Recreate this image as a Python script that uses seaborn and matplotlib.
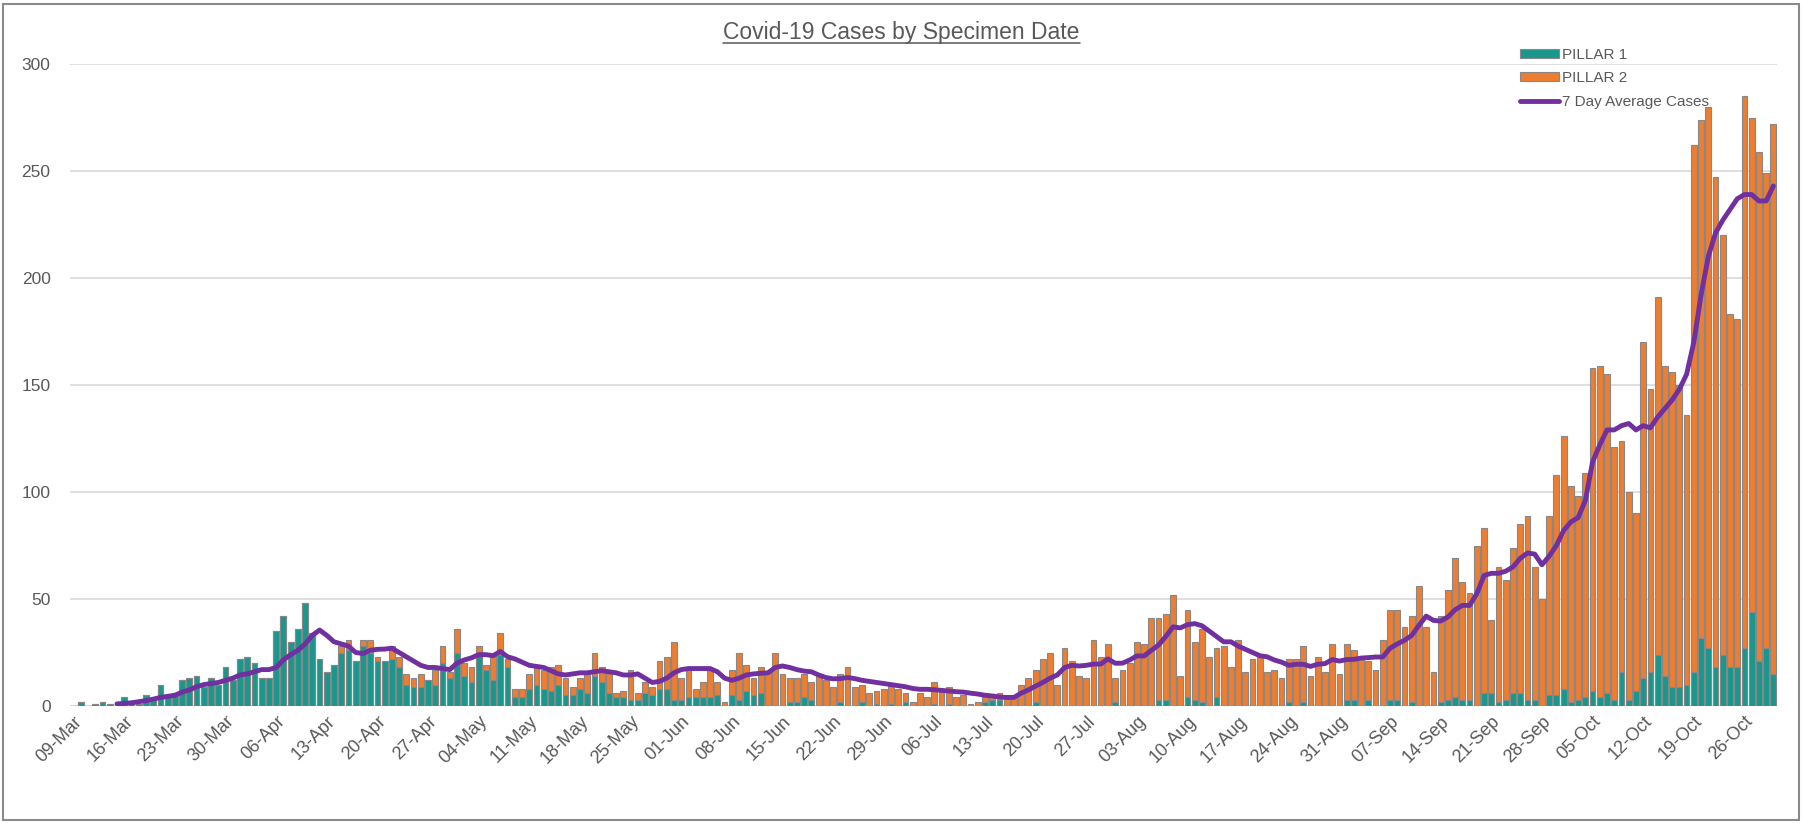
import numpy as np
import pandas as pd
import matplotlib
matplotlib.use("Agg")
import matplotlib.pyplot as plt
import seaborn as sns
from matplotlib.patches import Patch, Rectangle
from matplotlib.lines import Line2D

# ---------------- data (daily, starting 09-Mar) ----------------
start_date = "2020-03-09"

pillar1 = [
    0, 2, 0, 1, 2, 1, 0,
    4, 1, 1, 5, 3, 10, 4,
    6, 12, 13, 14, 9, 13, 10,
    18, 12, 22, 23, 20, 13, 13,
    35, 42, 30, 36, 48, 34, 22,
    16, 19, 25, 26, 21, 28, 25,
    21, 21, 22, 18, 10, 9, 9,
    12, 10, 20, 13, 25, 14, 11,
    24, 17, 12, 24, 18, 4, 4,
    8, 10, 8, 7, 10, 5, 5,
    8, 6, 14, 11, 6, 4, 4,
    3, 3, 6, 5, 8, 8, 3,
    3, 4, 4, 4, 4, 5, 0,
    5, 3, 7, 5, 6, 0, 0,
    0, 2, 2, 4, 3, 0, 0,
    0, 2, 0, 0, 2, 0, 1,
    0, 1, 0, 2, 0, 0, 0,
    1, 0, 1, 0, 0, 0, 0,
    2, 3, 3, 0, 0, 0, 0,
    2, 0, 0, 0, 0, 0, 0,
    0, 0, 0, 0, 2, 0, 0,
    0, 0, 0, 3, 3, 0, 0,
    4, 3, 2, 0, 4, 0, 0,
    0, 0, 0, 0, 0, 0, 0,
    2, 0, 2, 0, 0, 0, 0,
    0, 3, 3, 0, 3, 0, 0,
    3, 3, 0, 2, 0, 0, 0,
    2, 3, 4, 3, 3, 0, 6,
    6, 2, 3, 6, 6, 3, 3,
    0, 5, 5, 8, 2, 3, 4,
    7, 4, 6, 3, 16, 3, 7,
    13, 16, 24, 14, 9, 9, 10,
    16, 32, 27, 18, 24, 18, 18,
    27, 44, 21, 27, 15,
]

pillar2 = [
    0, 0, 0, 0, 0, 0, 0,
    0, 0, 0, 0, 0, 0, 0,
    0, 0, 0, 0, 0, 0, 0,
    0, 0, 0, 0, 0, 0, 0,
    0, 0, 0, 0, 0, 0, 0,
    0, 0, 3, 5, 0, 3, 6,
    2, 0, 6, 5, 5, 4, 6,
    0, 7, 8, 3, 11, 6, 7,
    4, 2, 12, 10, 4, 4, 4,
    7, 8, 9, 11, 9, 8, 4,
    5, 9, 11, 7, 11, 2, 3,
    14, 3, 5, 4, 13, 15, 27,
    10, 14, 4, 7, 13, 6, 2,
    12, 22, 12, 8, 12, 16, 25,
    15, 11, 11, 11, 8, 14, 12,
    9, 13, 18, 9, 8, 6, 6,
    8, 9, 8, 4, 2, 6, 4,
    10, 7, 8, 4, 5, 1, 2,
    4, 2, 3, 4, 4, 10, 13,
    15, 22, 25, 10, 27, 21, 14,
    13, 31, 23, 29, 11, 17, 20,
    30, 29, 41, 38, 40, 52, 14,
    41, 27, 34, 23, 23, 28, 18,
    31, 16, 22, 23, 16, 17, 13,
    20, 22, 26, 14, 23, 16, 29,
    15, 26, 23, 23, 18, 17, 31,
    42, 42, 37, 40, 56, 37, 16,
    40, 51, 65, 55, 50, 75, 77,
    34, 63, 56, 68, 79, 86, 62,
    50, 84, 103, 118, 101, 95, 105,
    151, 155, 149, 118, 108, 97, 83,
    157, 132, 167, 145, 147, 141, 126,
    246, 242, 253, 229, 196, 165, 163,
    258, 231, 238, 222, 257,
]

avg7 = [
    np.nan, np.nan, np.nan, np.nan, np.nan, np.nan, 1,
    1.2, 1.5, 2, 2.5, 3.2, 4, 4.5,
    5, 6.5, 7.5, 9, 10, 10.5, 11,
    12, 13, 14.5, 15, 16, 17, 17,
    18, 21.5, 24, 26, 29, 33, 35.5,
    33, 30, 29, 28, 25, 24.5, 26,
    26.5, 26.6, 27, 25, 23, 21, 19,
    18, 18, 17.5, 17, 20, 21.5, 22.5,
    24, 24, 23.5, 25.5, 23, 22, 20.5,
    19, 18.5, 18, 16.5, 15, 14.5, 15,
    15.5, 15.5, 16, 16.5, 16, 15.5, 14.5,
    14.5, 15, 13, 11, 11.5, 13, 15.5,
    17, 17.5, 17.5, 17.5, 17.5, 16, 13,
    12, 13, 14.5, 15, 15.3, 15.5, 18,
    18.7, 18, 17, 16.3, 16, 14.5, 13.3,
    12.7, 12.8, 13.3, 12.8, 12, 11.5, 11,
    10.5, 10, 9.5, 9, 8.2, 7.8, 7.8,
    7.6, 7.3, 7, 6.7, 6.5, 6, 5.6,
    5, 4.7, 4.2, 4, 4, 6, 7.5,
    9.3, 11, 13, 14.5, 18, 19, 18.7,
    19, 19.6, 19.6, 22, 20, 20, 21.5,
    23.4, 23.4, 26, 28.5, 32.5, 37, 36.5,
    38, 38.5, 37.5, 35, 32.5, 30, 30,
    28, 26.5, 25, 23.5, 23, 21.5, 20.5,
    19, 19.5, 19.5, 18.5, 19.5, 19.8, 21.7,
    21, 21.7, 21.8, 22.4, 22.6, 22.9, 22.9,
    27, 29, 30.7, 33, 37.7, 42, 40,
    39.7, 41.6, 45, 47, 47, 52.5, 61,
    62, 62, 63, 65, 69, 71.5, 71,
    66, 70, 75, 82, 86, 88, 96,
    114, 122, 129, 129, 131, 132, 129,
    131, 130, 135, 139, 143, 148, 155,
    170, 192, 210, 221, 227, 232, 237,
    239, 239, 236, 236, 243,
]

tick_labels = [
    "09-Mar", "16-Mar", "23-Mar", "30-Mar", "06-Apr", "13-Apr", "20-Apr",
    "27-Apr", "04-May", "11-May", "18-May", "25-May", "01-Jun", "08-Jun",
    "15-Jun", "22-Jun", "29-Jun", "06-Jul", "13-Jul", "20-Jul", "27-Jul",
    "03-Aug", "10-Aug", "17-Aug", "24-Aug", "31-Aug", "07-Sep", "14-Sep",
    "21-Sep", "28-Sep", "05-Oct", "12-Oct", "19-Oct", "26-Oct",
]

title = "Covid-19 Cases by Specimen Date"
series_names = ["PILLAR 1", "PILLAR 2", "7 Day Average Cases"]

# ---------------- styling ----------------
TEAL = "#1A978D"
ORANGE = "#ED7D31"
PURPLE = "#7030A0"
EDGE = "#888888"
TXT = "#595959"
GRID = "#D9D9D9"

sns.set_theme(style="white")
plt.rcParams["font.family"] = ["Liberation Sans", "DejaVu Sans"]

n = len(pillar1)
df = pd.DataFrame({
    "day": np.arange(n),
    "date": pd.date_range(start_date, periods=n),
    "p1": pillar1,
    "p2": pillar2,
    "avg": avg7,
})
df["total"] = df["p1"] + df["p2"]

fig = plt.figure(figsize=(18.03, 8.23), dpi=100)
ax = fig.add_axes([70 / 1803, 1 - 706 / 823, (1777 - 70) / 1803, (706 - 64) / 823])

# stacked bars: full height (pillar 2 on top) then pillar 1 from the base
sns.barplot(data=df, x="day", y="total", native_scale=True, color=ORANGE,
            saturation=1, width=0.8, edgecolor=EDGE, linewidth=0.8,
            errorbar=None, ax=ax)
sns.barplot(data=df, x="day", y="p1", native_scale=True, color=TEAL,
            saturation=1, width=0.8, edgecolor=EDGE, linewidth=0.8,
            errorbar=None, ax=ax)
sns.lineplot(data=df, x="day", y="avg", color=PURPLE, linewidth=3.5,
             ax=ax, zorder=5)

ax.set_ylim(0, 300)
ax.set_xlim(-0.5, n - 0.5)
ax.set_yticks(np.arange(0, 301, 50))
ax.set_xticks(np.arange(0, len(tick_labels) * 7, 7))
ax.set_xticklabels(tick_labels, rotation=45, ha="right", rotation_mode="anchor")
ax.set_xlabel("")
ax.set_ylabel("")
ax.grid(axis="y", color=GRID, linewidth=1.2)
ax.grid(axis="x", visible=False)
ax.set_axisbelow(True)
for s in ax.spines.values():
    s.set_visible(False)
ax.tick_params(axis="y", length=0, pad=14, labelsize=12.5, labelcolor=TXT)
ax.tick_params(axis="x", length=0, pad=5, labelsize=13, labelcolor=TXT)

# legend
handles = [
    Patch(facecolor=TEAL, edgecolor=EDGE, linewidth=0.8),
    Patch(facecolor=ORANGE, edgecolor=EDGE, linewidth=0.8),
    Line2D([0], [0], color=PURPLE, linewidth=3.5),
]
fig.legend(handles, series_names, loc="upper left",
           bbox_to_anchor=(1512 / 1803, 1 - 40 / 823), frameon=False,
           fontsize=11, labelcolor=TXT, handlelength=2.6, handleheight=0.55,
           handletextpad=0.15, labelspacing=0.62, borderpad=0)

# title (underlined)
t = fig.text(0.5, 1 - 32 / 823, title, ha="center", va="center",
             fontsize=16.5, color=TXT)
fig.canvas.draw()
bb = t.get_window_extent(renderer=fig.canvas.get_renderer())
inv = fig.transFigure.inverted()
(x0, y0), (x1, y1) = inv.transform([(bb.x0, bb.y0 + 1), (bb.x1, bb.y0 + 1)])
fig.add_artist(Line2D([x0, x1], [y0, y1], transform=fig.transFigure,
                      color=TXT, linewidth=1.1))

# outer chart border
fig.add_artist(Rectangle((3 / 1803, 3 / 823), 1 - 7 / 1803, 1 - 7 / 823,
                         transform=fig.transFigure, fill=False,
                         edgecolor="#8A8A8A", linewidth=1.5))

fig.savefig("out.png", dpi=100, facecolor="white")
